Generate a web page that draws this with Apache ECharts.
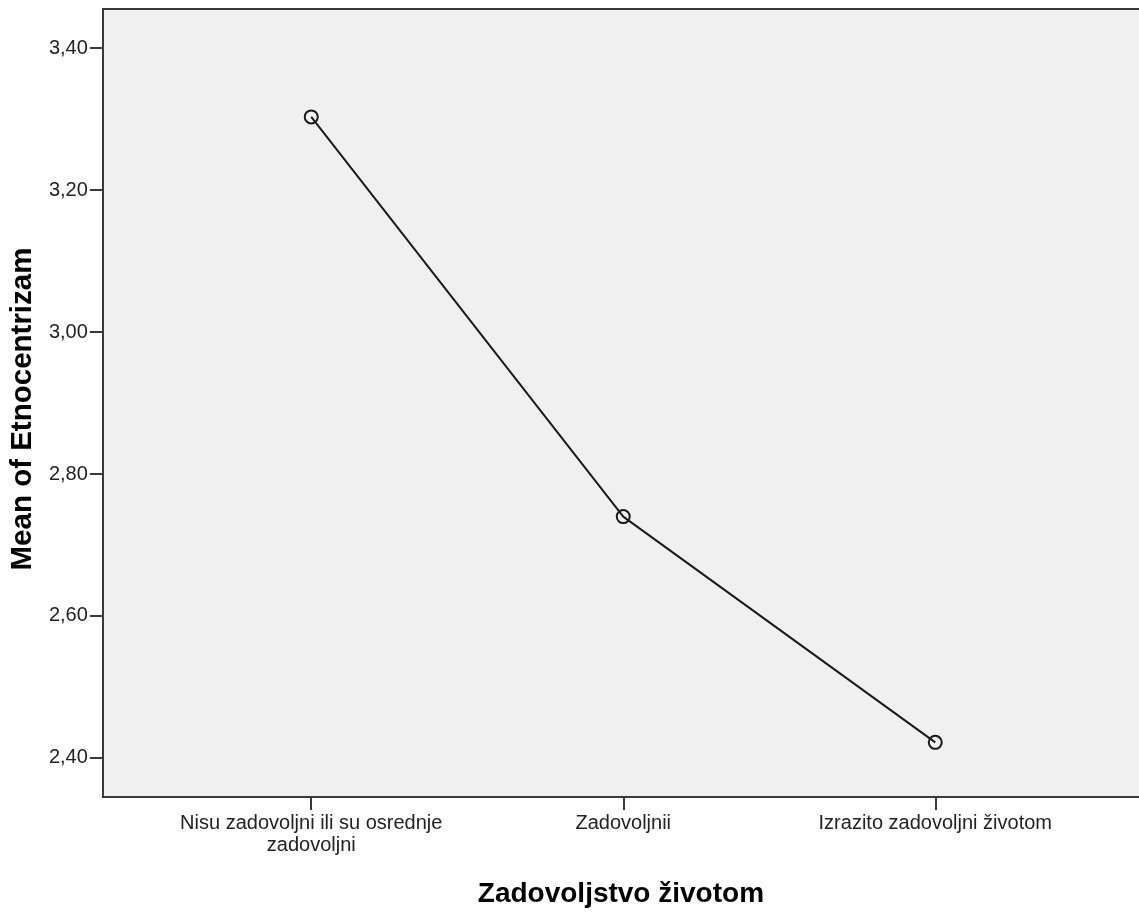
<!DOCTYPE html>
<html>
<head>
<meta charset="utf-8">
<script src="https://cdn.jsdelivr.net/npm/echarts@6/dist/echarts.min.js"></script>
<style>
html,body{margin:0;padding:0;background:#fff;}
#c{width:1139px;height:913px;}
</style>
</head>
<body>
<div id="c"></div>
<script>
const categories = ['Nisu zadovoljni ili su osrednje\nzadovoljni', 'Zadovoljnii', 'Izrazito zadovoljni životom'];
const categoryPositions = [1, 2, 3];
const meanValues = [3.303, 2.740, 2.422];
const yTicks = [2.4, 2.6, 2.8, 3.0, 3.2, 3.4];
const xTitle = 'Zadovoljstvo životom';
const yTitle = 'Mean of Etnocentrizam';

const FONT = "'Liberation Sans', Arial, sans-serif";
const AXIS = '#3a3a3a';
const chart = echarts.init(document.getElementById('c'), null, {renderer: 'canvas'});
chart.setOption({
  animation: false,
  backgroundColor: '#ffffff',
  grid: {left: 102, top: 9, right: 0, bottom: 111, show: true, backgroundColor: '#f0f0f0', borderWidth: 0},
  xAxis: [{
    type: 'value', min: 0.332, max: 3.653,
    splitLine: {show: false},
    axisLine: {show: true, lineStyle: {color: AXIS, width: 2}},
    axisTick: {show: true, customValues: categoryPositions, length: 13, lineStyle: {color: AXIS, width: 2}},
    axisLabel: {customValues: categoryPositions, formatter: v => categories[Math.round(v) - 1],
      fontFamily: FONT, fontSize: 20, lineHeight: 22, color: '#222', margin: 15},
    name: xTitle, nameLocation: 'middle', nameGap: 83,
    nameTextStyle: {fontFamily: FONT, fontWeight: 'bold', fontSize: 28, color: '#000'}
  }, {
    type: 'value', min: 0.332, max: 3.653, position: 'top',
    splitLine: {show: false},
    axisLine: {show: true, onZero: false, lineStyle: {color: AXIS, width: 2}},
    axisTick: {show: false}, axisLabel: {show: false}
  }],
  yAxis: {
    type: 'value', min: 2.345, max: 3.455,
    splitLine: {show: false},
    axisLine: {show: true, lineStyle: {color: AXIS, width: 2}},
    axisTick: {show: true, customValues: yTicks, length: 13, lineStyle: {color: AXIS, width: 2}},
    axisLabel: {customValues: yTicks, formatter: v => v.toFixed(2).replace('.', ','),
      fontFamily: FONT, fontSize: 20, color: '#222', margin: 15},
    name: yTitle, nameLocation: 'middle', nameGap: 63, nameRotate: 90,
    nameTextStyle: {fontFamily: FONT, fontWeight: 'bold', fontSize: 29.5, color: '#000', padding: [0, 12, 0, 0]}
  },
  series: [{
    type: 'line',
    xAxisIndex: 0,
    data: categoryPositions.map((x, i) => [x, meanValues[i]]),
    symbol: 'circle', symbolSize: 13,
    lineStyle: {color: '#1a1a1a', width: 2},
    itemStyle: {color: 'rgba(0,0,0,0)', borderColor: '#1a1a1a', borderWidth: 2}
  }]
});
</script>
</body>
</html>
